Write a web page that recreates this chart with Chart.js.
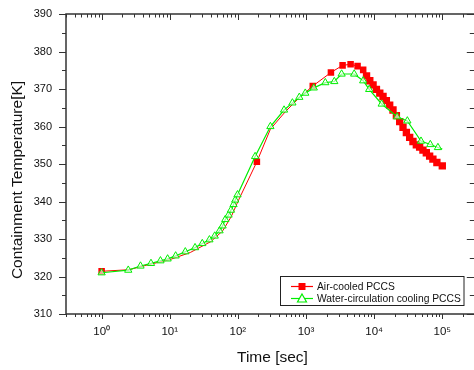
<!DOCTYPE html>
<html><head><meta charset="utf-8">
<script src="https://cdn.jsdelivr.net/npm/chart.js@4.4.0/dist/chart.umd.min.js"></script>
<style>html,body{margin:0;padding:0;overflow:hidden;background:#fff;width:474px;height:370px}canvas{display:block}</style>
</head><body>
<canvas id="c" width="480" height="370"></canvas>
<script>
// ---- data ----
const timeAir = [1.0, 2.5, 5, 10, 20, 40, 60, 80, 100, 190, 300, 500, 800, 1256, 2320, 3440, 4510, 5710, 6900, 7730, 8630, 9640, 10800, 12100, 13500, 15100, 16900, 18900, 21200, 23700, 26500, 29700, 33200, 37100, 41600, 46500, 52000, 58300, 65200, 72800, 83300, 100000];
const tempAir = [321.4, 321.8, 323.2, 324.5, 326.4, 329.3, 332.2, 336.0, 340.0, 350.6, 359.3, 364.0, 367.7, 370.8, 374.4, 376.3, 376.6, 376.1, 375.1, 373.5, 372.2, 371.1, 369.9, 368.9, 368.0, 366.9, 365.7, 364.4, 362.9, 361.3, 359.8, 358.4, 357.1, 356.0, 355.1, 354.5, 353.7, 353.0, 352.1, 351.3, 350.4, 349.5];
const timeWater = [1.0, 2.46, 3.72, 5.3, 7.3, 9.3, 12.2, 16.9, 23.5, 30.0, 38.2, 45.7, 53.8, 59.6, 65.3, 72.9, 79.1, 86.3, 91.4, 98.7, 179, 300, 476, 631, 797, 975, 1300, 1920, 2600, 3330, 5090, 6900, 8450, 12900, 21700, 30700, 48700, 66700, 86300, 100000];
const tempWater = [321.0, 321.7, 322.8, 323.5, 324.2, 324.7, 325.5, 326.6, 327.7, 328.8, 329.8, 330.8, 332.2, 333.5, 335.2, 336.4, 337.7, 339.2, 340.4, 341.8, 352.0, 360.0, 364.4, 366.3, 367.8, 368.9, 370.3, 371.7, 372.0, 374.0, 374.0, 372.2, 369.9, 366.0, 362.6, 361.5, 356.1, 355.2, 354.4, 354.0];
const xTickValues = [1, 10, 100, 1000, 10000, 100000];
const xTickLabels = ['10\u2070', '10\u00b9', '10\u00b2', '10\u00b3', '10\u2074', '10\u2075'];
const yTickValues = [310, 320, 330, 340, 350, 360, 370, 380, 390];
const seriesNames = ['Air-cooled PCCS', 'Water-circulation cooling PCCS'];
const xTitle = 'Time [sec]';
const yTitle = 'Containment Temperature[K]';

const RED = '#ff0000', GREEN = '#00ee00', AXIS = '#333';
const FONT = 'Arial, "Liberation Sans", sans-serif';

const frame = {
  id: 'frame',
  afterDraw(chart) {
    const {ctx, chartArea: a, scales: {x, y}} = chart;
    ctx.save();
    ctx.strokeStyle = AXIS;
    ctx.lineWidth = 1.5;
    ctx.strokeRect(a.left, a.top, a.right - a.left, a.bottom - a.top);
    ctx.lineWidth = 1;
    ctx.beginPath();
    for (let d = -1; d <= 5; d++) {
      for (let m = 1; m <= 9; m++) {
        const v = m * Math.pow(10, d);
        if (v < x.min || v > x.max) continue;
        const px = Math.round(x.getPixelForValue(v)) + 0.5;
        const major = m === 1;
        ctx.moveTo(px, a.bottom); ctx.lineTo(px, a.bottom + (major ? 5 : 3));
        ctx.moveTo(px, a.top); ctx.lineTo(px, a.top + (major ? 6 : 3.5));
      }
    }
    for (let v = y.min; v <= y.max; v += 5) {
      const py = Math.round(y.getPixelForValue(v)) + 0.5;
      const major = v % 10 === 0;
      ctx.moveTo(a.left, py); ctx.lineTo(a.left - (major ? 7 : 4), py);
      ctx.moveTo(a.right, py); ctx.lineTo(a.right - (major ? 8 : 5), py);
    }
    ctx.stroke();

    // axis titles
    ctx.fillStyle = '#111';
    ctx.font = '15.5px ' + FONT;
    ctx.textAlign = 'center';
    ctx.textBaseline = 'middle';
    ctx.fillText(xTitle, (x.getPixelForValue(1) + x.getPixelForValue(1e5)) / 2 + 0.5, 358);
    ctx.save();
    ctx.translate(17.5, 180);
    ctx.rotate(-Math.PI / 2);
    ctx.fillText(yTitle, 0, 0);
    ctx.restore();

    // legend
    const lx = 280.5, ly = 276.5, lw = 183.5, lh = 29;
    ctx.fillStyle = '#fff';
    ctx.fillRect(lx, ly, lw, lh);
    ctx.strokeStyle = '#222';
    ctx.lineWidth = 1;
    ctx.strokeRect(lx, ly, lw, lh);
    const rows = [
      {y: 286.5, color: RED, name: seriesNames[0], kind: 'sq'},
      {y: 298.5, color: GREEN, name: seriesNames[1], kind: 'tri'}
    ];
    ctx.font = '10.3px ' + FONT;
    ctx.textAlign = 'left';
    rows.forEach(r => {
      ctx.strokeStyle = r.color;
      ctx.lineWidth = 1.2;
      ctx.beginPath(); ctx.moveTo(291, r.y); ctx.lineTo(313, r.y); ctx.stroke();
      if (r.kind === 'sq') {
        ctx.fillStyle = r.color; ctx.fillRect(298.5, r.y - 3.5, 7, 7);
      } else {
        ctx.fillStyle = '#fff';
        ctx.beginPath(); ctx.moveTo(302, r.y - 4.5); ctx.lineTo(306.5, r.y + 3.5); ctx.lineTo(297.5, r.y + 3.5); ctx.closePath();
        ctx.fill(); ctx.stroke();
      }
      ctx.fillStyle = '#111';
      ctx.fillText(r.name, 317, r.y + 0.5);
    });
    ctx.restore();
  }
};

new Chart(document.getElementById('c'), {
  type: 'line',
  data: {
    datasets: [
      {
        label: seriesNames[0],
        data: timeAir.map((t, i) => ({x: t, y: tempAir[i]})),
        borderColor: RED, backgroundColor: RED,
        borderWidth: 1, pointStyle: 'rect',
        pointRadius: c => { const t = timeAir[c.dataIndex]; return (t > 1.5 && t < 1000 && t !== 190) ? 0 : (t > 7000 ? 5.2 : 4.6); },
        pointBorderWidth: 0, tension: 0, order: 1
      },
      {
        label: seriesNames[1],
        data: timeWater.map((t, i) => ({x: t, y: tempWater[i]})),
        borderColor: GREEN, backgroundColor: '#fff',
        pointBackgroundColor: 'rgba(255,255,255,0.6)',
        borderWidth: 1.2, pointStyle: 'triangle',
        pointRadius: c => c.dataIndex === timeWater.length - 1 ? 0 : 4.2,
        pointBorderWidth: 1, tension: 0, order: 0
      }
    ]
  },
  options: {
    responsive: false, animation: false, devicePixelRatio: 1,
    layout: {padding: {top: 14, right: 4.7, left: 0, bottom: 0}},
    plugins: {legend: {display: false}, tooltip: {enabled: false}},
    scales: {
      x: {
        type: 'logarithmic', min: 0.3, max: 3e5,
        grid: {display: false, drawTicks: false}, border: {display: false},
        afterBuildTicks: s => { s.ticks = xTickValues.map(v => ({value: v})); },
        afterFit: s => { s.height = 56; s.paddingLeft = 0; s.paddingRight = 0; },
        ticks: {
          autoSkip: false, maxRotation: 0, padding: 11, color: '#111',
          font: {family: FONT, size: 11.5},
          callback: (v) => { const i = xTickValues.indexOf(v); return i >= 0 ? xTickLabels[i] : ''; }
        }
      },
      y: {
        min: 310, max: 390,
        grid: {display: false, drawTicks: false}, border: {display: false},
        afterBuildTicks: s => { s.ticks = yTickValues.map(v => ({value: v})); },
        afterFit: s => { s.width = 66; s.paddingTop = 0; s.paddingBottom = 0; },
        ticks: {padding: 14, color: '#111', font: {family: FONT, size: 11}}
      }
    }
  },
  plugins: [frame]
});
</script>
</body></html>
